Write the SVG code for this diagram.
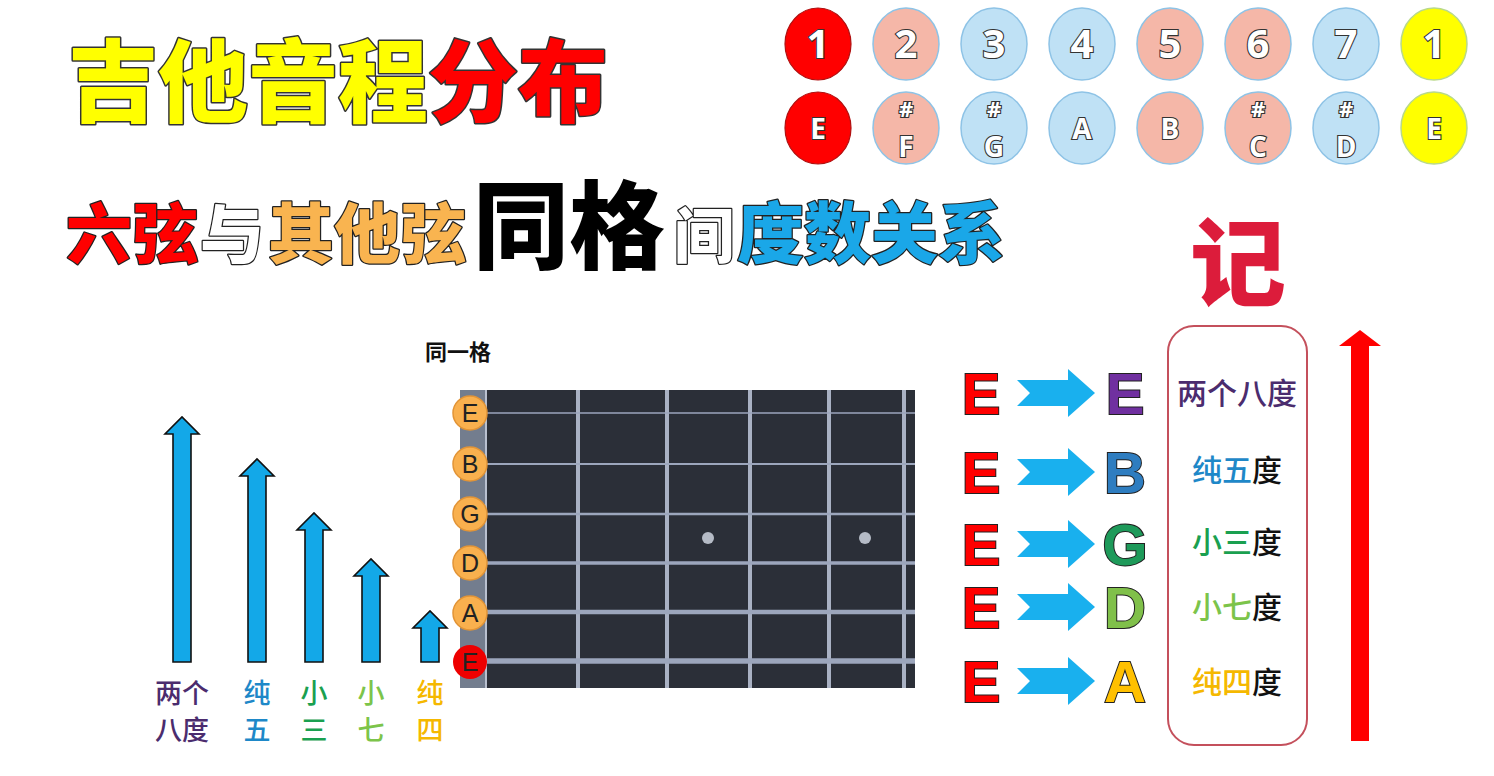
<svg xmlns="http://www.w3.org/2000/svg" width="1494" height="776" viewBox="0 0 1494 776">
<style>
.cjk{font-family:"Noto Sans CJK SC","Noto Sans",sans-serif}
.hv{font-weight:900;paint-order:stroke;stroke-linejoin:round}
.num{font-family:"Open Sans","Liberation Sans",Arial,sans-serif;font-weight:bold;fill:#fff;stroke:#333;stroke-width:2.2;paint-order:stroke;text-anchor:middle}
.red{fill:#FF0000;stroke:#B01010;stroke-width:1.2}
.sal{fill:#F5B7A8;stroke:#8EC3E6;stroke-width:1.5}
.blu{fill:#BFE1F5;stroke:#8EC3E6;stroke-width:1.5}
.yel{fill:#FFFF00;stroke:#B9D98A;stroke-width:1.5}
.barr{fill:#13A8E8;stroke:#111;stroke-width:1.6;stroke-linejoin:miter}
.rarr{fill:#19B0EE}
.nl{fill:#F9B04E;stroke:#E29436;stroke-width:1.5}
.nt{font-family:"Liberation Sans",Arial,sans-serif;font-size:25px;fill:#222;text-anchor:middle}
.fret{stroke:#A9B1C3;stroke-width:4}
.lab{font-family:"Noto Sans CJK SC",sans-serif;font-size:27px;text-anchor:middle;font-weight:500}
.big{font-family:"Liberation Sans",Arial,sans-serif;font-weight:900;font-size:58px;stroke:#222;stroke-width:2;paint-order:stroke;text-anchor:middle}
.box{font-family:"Noto Sans CJK SC",sans-serif;font-size:30px;text-anchor:middle;font-weight:500}
</style>
<rect width="1494" height="776" fill="#fff"/>

<g id="title">
<text class="cjk hv" x="68" y="115" font-size="90" stroke="#333" stroke-width="3"><tspan fill="#FFFF00">吉他音程</tspan><tspan fill="#FF0000">分布</tspan></text>
</g>

<g id="subtitle" class="cjk hv" stroke="#222" stroke-width="2.5">
<text x="66" y="258" font-size="66" fill="#FF0000">六弦</text>
<text x="200" y="258" font-size="64" fill="#fff">与</text>
<text x="268" y="258" font-size="66" fill="#F9B450">其他弦</text>
<text x="473" y="261" font-size="96" fill="#000" stroke="none">同格</text>
<text x="674" y="258" font-size="60" fill="#fff">间</text>
<text x="737" y="258" font-size="67" fill="#1AA7E8">度数关系</text>
</g>

<g id="scale">
<g id="row1">
<ellipse class="red" cx="818" cy="44" rx="33" ry="36"/>
<ellipse class="sal" cx="906" cy="44" rx="33" ry="36"/>
<ellipse class="blu" cx="994" cy="44" rx="33" ry="36"/>
<ellipse class="blu" cx="1082" cy="44" rx="33" ry="36"/>
<ellipse class="sal" cx="1170" cy="44" rx="33" ry="36"/>
<ellipse class="sal" cx="1258" cy="44" rx="33" ry="36"/>
<ellipse class="blu" cx="1346" cy="44" rx="33" ry="36"/>
<ellipse class="yel" cx="1434" cy="44" rx="33" ry="36"/>
<g font-size="40">
<text x="818" y="58" class="num">1</text>
<text x="906" y="58" class="num">2</text>
<text x="994" y="58" class="num">3</text>
<text x="1082" y="58" class="num">4</text>
<text x="1170" y="58" class="num">5</text>
<text x="1258" y="58" class="num">6</text>
<text x="1346" y="58" class="num">7</text>
<text x="1434" y="58" class="num">1</text>
</g>
</g>
<g id="row2">
<ellipse class="red" cx="818" cy="128" rx="33" ry="36"/>
<ellipse class="sal" cx="906" cy="128" rx="33" ry="36"/>
<ellipse class="blu" cx="994" cy="128" rx="33" ry="36"/>
<ellipse class="blu" cx="1082" cy="128" rx="33" ry="36"/>
<ellipse class="sal" cx="1170" cy="128" rx="33" ry="36"/>
<ellipse class="sal" cx="1258" cy="128" rx="33" ry="36"/>
<ellipse class="blu" cx="1346" cy="128" rx="33" ry="36"/>
<ellipse class="yel" cx="1434" cy="128" rx="33" ry="36"/>
<text x="818" y="139" class="num" font-size="28">E</text>
<text x="906" y="117" class="num" font-size="22">#</text>
<text x="906" y="157" class="num" font-size="28">F</text>
<text x="994" y="117" class="num" font-size="22">#</text>
<text x="994" y="157" class="num" font-size="28">G</text>
<text x="1082" y="139" class="num" font-size="28">A</text>
<text x="1170" y="139" class="num" font-size="28">B</text>
<text x="1258" y="117" class="num" font-size="22">#</text>
<text x="1258" y="157" class="num" font-size="28">C</text>
<text x="1346" y="117" class="num" font-size="22">#</text>
<text x="1346" y="157" class="num" font-size="28">D</text>
<text x="1434" y="139" class="num" font-size="28">E</text>
</g>
</g>

<g id="fretboard">
<text x="425" y="360" class="cjk" font-size="22" font-weight="bold" fill="#111">同一格</text>
<rect x="460" y="390" width="455" height="298" fill="#2B2F38"/>
<rect x="460" y="390" width="27" height="298" fill="#737D8E"/>
<line x1="486" y1="390" x2="486" y2="688" stroke="#B9C0CF" stroke-width="2"/>
<g class="fret">
<line x1="578" y1="390" x2="578" y2="688"/>
<line x1="667" y1="390" x2="667" y2="688"/>
<line x1="750" y1="390" x2="750" y2="688"/>
<line x1="829" y1="390" x2="829" y2="688"/>
<line x1="904" y1="390" x2="904" y2="688"/>
</g>
<g stroke="#9CA6BC">
<line x1="487" y1="413" x2="915" y2="413" stroke-width="1.5"/>
<line x1="487" y1="464" x2="915" y2="464" stroke-width="2"/>
<line x1="487" y1="514" x2="915" y2="514" stroke-width="2.5"/>
<line x1="487" y1="563" x2="915" y2="563" stroke-width="3.5"/>
<line x1="487" y1="612" x2="915" y2="612" stroke-width="4.5"/>
<line x1="487" y1="661" x2="915" y2="661" stroke-width="5.5"/>
</g>
<circle cx="708" cy="538" r="6" fill="#B5BBC6"/>
<circle cx="865" cy="538" r="6" fill="#B5BBC6"/>
<g id="notes">
<circle class="nl" cx="470" cy="413" r="17"/><text class="nt" x="470" y="422">E</text>
<circle class="nl" cx="470" cy="464" r="17"/><text class="nt" x="470" y="473">B</text>
<circle class="nl" cx="470" cy="514" r="17"/><text class="nt" x="470" y="523">G</text>
<circle class="nl" cx="470" cy="563" r="17"/><text class="nt" x="470" y="572">D</text>
<circle class="nl" cx="470" cy="613" r="17"/><text class="nt" x="470" y="622">A</text>
<circle cx="470" cy="662" r="17" fill="#EE0000"/><text class="nt" x="470" y="671">E</text>
</g>
</g>

<g id="connectors">
<polygon class="barr" points="173,662 173,434 165,434 182,417 199,434 191,434 191,662"/>
<polygon class="barr" points="248,662 248,476 240,476 257,459 274,476 266,476 266,662"/>
<polygon class="barr" points="305,662 305,530 297,530 314,513 331,530 323,530 323,662"/>
<polygon class="barr" points="362,662 362,576 354,576 371,559 388,576 380,576 380,662"/>
<polygon class="barr" points="421,662 421,628 413,628 430,611 447,628 439,628 439,662"/>
<polygon class="rarr" points="1017,380 1068,380 1068,369 1095,393 1068,417 1068,406 1017,406 1030,393"/>
<polygon class="rarr" points="1017,459 1068,459 1068,448 1095,472 1068,496 1068,485 1017,485 1030,472"/>
<polygon class="rarr" points="1017,531 1068,531 1068,520 1095,544 1068,568 1068,557 1017,557 1030,544"/>
<polygon class="rarr" points="1017,594 1068,594 1068,583 1095,607 1068,631 1068,620 1017,620 1030,607"/>
<polygon class="rarr" points="1017,668 1068,668 1068,657 1095,681 1068,705 1068,694 1017,694 1030,681"/>
<polygon fill="#FF0000" points="1351,741 1351,346 1339,346 1360,330 1381,346 1369,346 1369,741"/>
</g>

<g id="left-labels">
<g id="l1"><text class="lab" x="182" y="703" fill="#4B2C6E">两个</text><text class="lab" x="182" y="740" fill="#4B2C6E">八度</text></g>
<g id="l2"><text class="lab" x="257" y="703" fill="#1E88C8">纯</text><text class="lab" x="257" y="740" fill="#1E88C8">五</text></g>
<g id="l3"><text class="lab" x="314" y="703" fill="#1AA050">小</text><text class="lab" x="314" y="740" fill="#1AA050">三</text></g>
<g id="l4"><text class="lab" x="371" y="703" fill="#7CC44A">小</text><text class="lab" x="371" y="740" fill="#7CC44A">七</text></g>
<g id="l5"><text class="lab" x="430" y="703" fill="#F5B800">纯</text><text class="lab" x="430" y="740" fill="#F5B800">四</text></g>
</g>

<g id="pairs">
<text x="981" y="414" class="big" fill="#FF0000">E</text>
<text x="981" y="493" class="big" fill="#FF0000">E</text>
<text x="981" y="565" class="big" fill="#FF0000">E</text>
<text x="981" y="628" class="big" fill="#FF0000">E</text>
<text x="981" y="702" class="big" fill="#FF0000">E</text>
<text x="1125" y="414" class="big" fill="#7030A0">E</text>
<text x="1125" y="493" class="big" fill="#2E7DC0">B</text>
<text x="1125" y="565" class="big" fill="#1E9A5A">G</text>
<text x="1125" y="628" class="big" fill="#80C04A">D</text>
<text x="1125" y="702" class="big" fill="#FFC000">A</text>
</g>

<g id="memo">
<text x="1238" y="298" class="cjk" font-size="96" font-weight="900" fill="#DC1C3B" text-anchor="middle">记</text>
<rect x="1168" y="326" width="139" height="419" rx="26" fill="none" stroke="#C4505C" stroke-width="2"/>
<text class="box" x="1237" y="404" fill="#4B2C6E">两个八度</text>
<text class="box" x="1237" y="481"><tspan fill="#1E88C8">纯五</tspan><tspan fill="#111">度</tspan></text>
<text class="box" x="1237" y="553"><tspan fill="#1AA050">小三</tspan><tspan fill="#111">度</tspan></text>
<text class="box" x="1237" y="618"><tspan fill="#7CC44A">小七</tspan><tspan fill="#111">度</tspan></text>
<text class="box" x="1237" y="693"><tspan fill="#F5B800">纯四</tspan><tspan fill="#111">度</tspan></text>
</g>
</svg>
